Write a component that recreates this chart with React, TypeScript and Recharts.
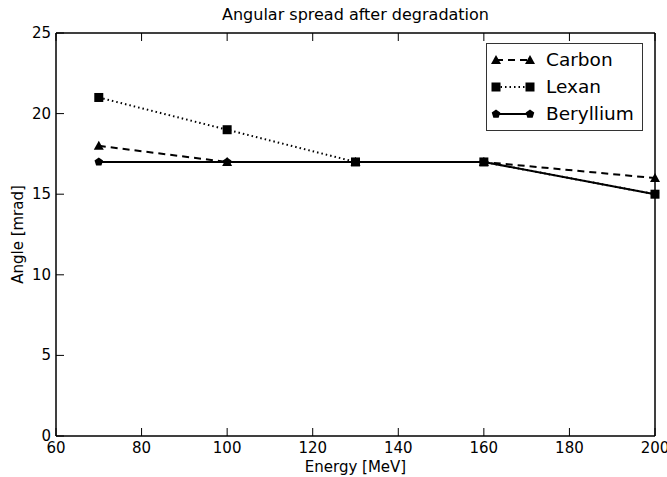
import React from 'react';
import { LineChart, Line, XAxis, YAxis, ReferenceArea } from 'recharts';

const energies = [70, 100, 130, 160, 200];
const carbon = [18, 17, 17, 17, 16];
const lexan = [21, 19, 17, 17, 15];
const beryllium = [17, 17, 17, 17, 15];
const xTicks = [60, 80, 100, 120, 140, 160, 180, 200];
const yTicks = [0, 5, 10, 15, 20, 25];

const data = energies.map((e, i) => ({
  energy: e,
  carbon: carbon[i],
  lexan: lexan[i],
  beryllium: beryllium[i],
}));

const FONT = '"DejaVu Sans", sans-serif';

const Triangle = ({ cx, cy, r = 5 }: any) =>
  cx == null ? null : (
    <polygon points={`${cx},${cy - r} ${cx - r},${cy + r * 0.8} ${cx + r},${cy + r * 0.8}`} fill="#000" />
  );

const Square = ({ cx, cy, r = 4.5 }: any) =>
  cx == null ? null : <rect x={cx - r} y={cy - r} width={r * 2} height={r * 2} fill="#000" />;

const Pentagon = ({ cx, cy, r = 4.5 }: any) => {
  if (cx == null) return null;
  const pts = [0, 1, 2, 3, 4]
    .map((k) => {
      const a = -Math.PI / 2 + (k * 2 * Math.PI) / 5;
      return `${cx + r * Math.cos(a)},${cy + r * Math.sin(a)}`;
    })
    .join(' ');
  return <polygon points={pts} fill="#000" />;
};

// matplotlib-style ticks pointing into the plot
const BottomTick = ({ x, y, payload }: any) => (
  <g>
    <line x1={x} y1={y} x2={x} y2={y - 8} stroke="#000" />
    <text x={x} y={y + 17} textAnchor="middle" fontSize={15} fontFamily={FONT} fill="#000">
      {payload.value}
    </text>
  </g>
);

const TopTick = ({ x }: any) => <line x1={x} y1={33} x2={x} y2={41} stroke="#000" />;

const LeftTick = ({ x, y, payload }: any) => (
  <g>
    <line x1={x} y1={y} x2={x + 8} y2={y} stroke="#000" />
    <text x={x - 5} y={y + 5} textAnchor="end" fontSize={15} fontFamily={FONT} fill="#000">
      {payload.value}
    </text>
  </g>
);

const RightTick = ({ y }: any) => <line x1={655} y1={y} x2={647} y2={y} stroke="#000" />;

const legendItems = [
  { label: 'Carbon', dash: '7 5', Marker: Triangle },
  { label: 'Lexan', dash: '1.5 3', Marker: Square },
  { label: 'Beryllium', dash: undefined, Marker: Pentagon },
];

export default function App() {
  return (
    <div style={{ position: 'absolute', left: 0, top: 0, width: 667, height: 477, background: '#fff' }}>
      <LineChart width={667} height={477} data={data} margin={{ top: 32, right: 11, left: 0, bottom: 0 }}>
        <XAxis
          xAxisId="b"
          dataKey="energy"
          type="number"
          domain={[60, 200]}
          ticks={xTicks}
          height={41}
          tickSize={0}
          tickMargin={0}
          stroke="#000"
          tick={<BottomTick />}
          tickLine={false}
          interval={0}
        />
        <XAxis
          xAxisId="t"
          orientation="top"
          dataKey="energy"
          type="number"
          domain={[60, 200]}
          ticks={xTicks}
          height={1}
          tickSize={0}
          tickMargin={0}
          stroke="#000"
          tick={<TopTick />}
          tickLine={false}
          interval={0}
        />
        <YAxis
          yAxisId="l"
          type="number"
          domain={[0, 25]}
          ticks={yTicks}
          width={56}
          tickSize={0}
          tickMargin={0}
          stroke="#000"
          tick={<LeftTick />}
          tickLine={false}
          interval={0}
        />
        <YAxis
          yAxisId="r"
          orientation="right"
          type="number"
          domain={[0, 25]}
          ticks={yTicks}
          width={1}
          tickSize={0}
          tickMargin={0}
          stroke="#000"
          tick={<RightTick />}
          tickLine={false}
          interval={0}
        />
        <ReferenceArea
          xAxisId="b"
          yAxisId="l"
          x1={60}
          x2={200}
          y1={0}
          y2={25}
          fill="none"
          fillOpacity={0}
          stroke="#000"
          strokeWidth={1}
          ifOverflow="visible"
        />
        <Line
          xAxisId="b"
          yAxisId="l"
          dataKey="beryllium"
          type="linear"
          stroke="#000"
          strokeWidth={2}
          dot={(p: any) => <Pentagon key={`be${p.index}`} cx={p.cx} cy={p.cy} />}
          isAnimationActive={false}
        />
        <Line
          xAxisId="b"
          yAxisId="l"
          dataKey="lexan"
          type="linear"
          stroke="#000"
          strokeWidth={2}
          strokeDasharray="1.5 3"
          dot={(p: any) => <Square key={`le${p.index}`} cx={p.cx} cy={p.cy} />}
          isAnimationActive={false}
        />
        <Line
          xAxisId="b"
          yAxisId="l"
          dataKey="carbon"
          type="linear"
          stroke="#000"
          strokeWidth={2}
          strokeDasharray="7 5"
          dot={(p: any) => <Triangle key={`ca${p.index}`} cx={p.cx} cy={p.cy} />}
          isAnimationActive={false}
        />
        <text x={355.5} y={20} textAnchor="middle" fontSize={16} fontFamily={FONT} fill="#000">
          Angular spread after degradation
        </text>
        <text x={355.5} y={472} textAnchor="middle" fontSize={15} fontFamily={FONT} fill="#000">
          Energy [MeV]
        </text>
        <text
          x={23}
          y={234.5}
          textAnchor="middle"
          fontSize={15}
          fontFamily={FONT}
          fill="#000"
          transform="rotate(-90 23 234.5)"
        >
          Angle [mrad]
        </text>
      </LineChart>
      <div
        style={{
          position: 'absolute',
          left: 486,
          top: 43,
          width: 157,
          height: 88,
          border: '1px solid #333',
          boxSizing: 'border-box',
          background: '#fff',
        }}
      >
        <svg width={155} height={86}>
          {legendItems.map((it, i) => {
            const y = 16 + i * 27;
            const M = it.Marker;
            return (
              <g key={it.label}>
                <line x1={9} y1={y} x2={43} y2={y} stroke="#000" strokeWidth={2} strokeDasharray={it.dash} />
                <M cx={9} cy={y} />
                <M cx={43} cy={y} />
                <text x={59} y={y + 6} fontSize={18.5} fontFamily={FONT} fill="#000">
                  {it.label}
                </text>
              </g>
            );
          })}
        </svg>
      </div>
    </div>
  );
}
